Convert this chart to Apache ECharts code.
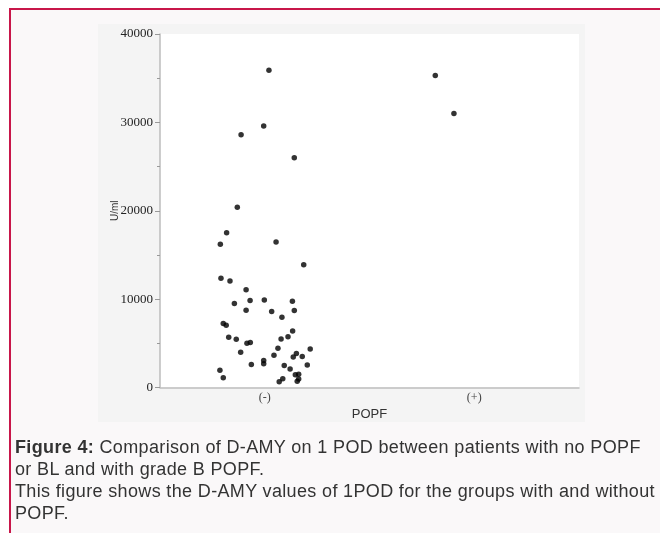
<!DOCTYPE html>
<html>
<head>
<meta charset="utf-8">
<script src="https://cdn.jsdelivr.net/npm/echarts@6/dist/echarts.min.js"></script>
<style>
  html, body { margin: 0; padding: 0; width: 660px; height: 533px; overflow: hidden; background: #ffffff; }
  #frame { position: absolute; left: 9px; top: 8px; width: 660px; height: 540px; border-left: 2px solid #c8164a; border-top: 2px solid #c8164a; background: #faf8f9; box-sizing: border-box; }
  #panel { position: absolute; left: 98px; top: 24px; width: 487px; height: 398px; background: #f4f4f4; }
  #chart { position: absolute; left: 0; top: 0; width: 660px; height: 533px; }
  #caption { position: absolute; left: 15px; top: 436px; width: 645px; white-space: nowrap; font-family: "Liberation Sans", Arial, sans-serif; font-size: 18px; letter-spacing: 0.35px; line-height: 22px; color: #333; }
</style>
</head>
<body>
<div id="frame"></div>
<div id="panel"></div>
<div id="chart"></div>
<div id="caption"><b>Figure 4:</b> Comparison of D-AMY on 1 POD between patients with no POPF<br>or BL and with grade B POPF.<br>This figure shows the D-AMY values of 1POD for the groups with and without<br>POPF.</div>
<script>
// categories on the x axis (positions 0 and 1)
const categories = ["(-)", "(+)"];
const yTicks = [0, 10000, 20000, 30000, 40000];

// POPF (-) group: jittered x position around 0, D-AMY value (U/ml)
const negX = [0.020, -0.005, -0.113, 0.141, -0.131, -0.182, -0.212, 0.054, 0.186, -0.209,
  -0.166, -0.089, -0.145, -0.070, -0.002, 0.132, -0.089, 0.033, 0.141, 0.082,
  -0.198, -0.184, 0.133, 0.111, 0.078, -0.172, -0.136, -0.085, -0.069, 0.063,
  -0.115, 0.044, 0.151, 0.136, 0.179, 0.217, -0.005, -0.005, -0.064, 0.093,
  0.121, 0.203, -0.214, -0.198, 0.069, 0.086, 0.146, 0.162, 0.162, 0.155];
const negY = [35900, 29600, 28600, 26000, 20400, 17500, 16200, 16450, 13900, 12350,
  12050, 11050, 9500, 9850, 9900, 9750, 8750, 8600, 8700, 7950,
  7250, 7050, 6400, 5750, 5500, 5700, 5450, 5000, 5100, 4450,
  4000, 3650, 3850, 3450, 3500, 4350, 3050, 2700, 2600, 2500,
  2100, 2550, 1950, 1100, 650, 1000, 1450, 1500, 950, 700];

// POPF (+) group
const posX = [0.814, 0.903];
const posY = [35300, 31000];

const negData = negX.map((x, i) => [x, negY[i]]);
const posData = posX.map((x, i) => [x, posY[i]]);

const chart = echarts.init(document.getElementById('chart'), null, { renderer: 'canvas' });
chart.setOption({
  backgroundColor: 'transparent',
  animation: false,
  grid: { left: 160, right: 81, top: 34, height: 353.5, show: true, backgroundColor: '#ffffff', borderWidth: 0 },
  xAxis: {
    type: 'value', min: -0.5, max: 1.5, interval: 0.5,
    name: 'POPF', nameLocation: 'middle', nameGap: 19,
    nameTextStyle: { fontFamily: 'Liberation Sans', fontSize: 13, color: '#333' },
    axisLine: { show: true, onZero: false, lineStyle: { color: '#bdbdbd', width: 1.5 } },
    axisTick: { show: false },
    splitLine: { show: false },
    axisLabel: {
      margin: 4, fontFamily: 'Liberation Serif', fontSize: 12, color: '#444',
      formatter: v => (Math.abs(v - 0) < 1e-9 ? categories[0] : (Math.abs(v - 1) < 1e-9 ? categories[1] : ''))
    }
  },
  yAxis: {
    type: 'value', min: yTicks[0], max: yTicks[yTicks.length - 1], interval: 10000,
    name: 'U/ml', nameLocation: 'middle', nameGap: 40, nameRotate: 90, nameMoveOverlap: false,
    nameTextStyle: { fontFamily: 'Liberation Sans', fontSize: 10, color: '#333' },
    axisLine: { show: true, onZero: false, lineStyle: { color: '#bdbdbd', width: 1.5 } },
    axisTick: { show: true, length: 5, lineStyle: { color: '#999' } },
    minorTick: { show: true, splitNumber: 2, length: 3, lineStyle: { color: '#999' } },
    splitLine: { show: false },
    axisLabel: { margin: 7, fontFamily: 'Liberation Serif', fontSize: 13, color: '#222', formatter: v => String(v) }
  },
  series: [
    { type: 'scatter', data: negData, symbolSize: 5.5, itemStyle: { color: '#000' } },
    { type: 'scatter', data: posData, symbolSize: 5.5, itemStyle: { color: '#000' } }
  ]
});
</script>
</body>
</html>
